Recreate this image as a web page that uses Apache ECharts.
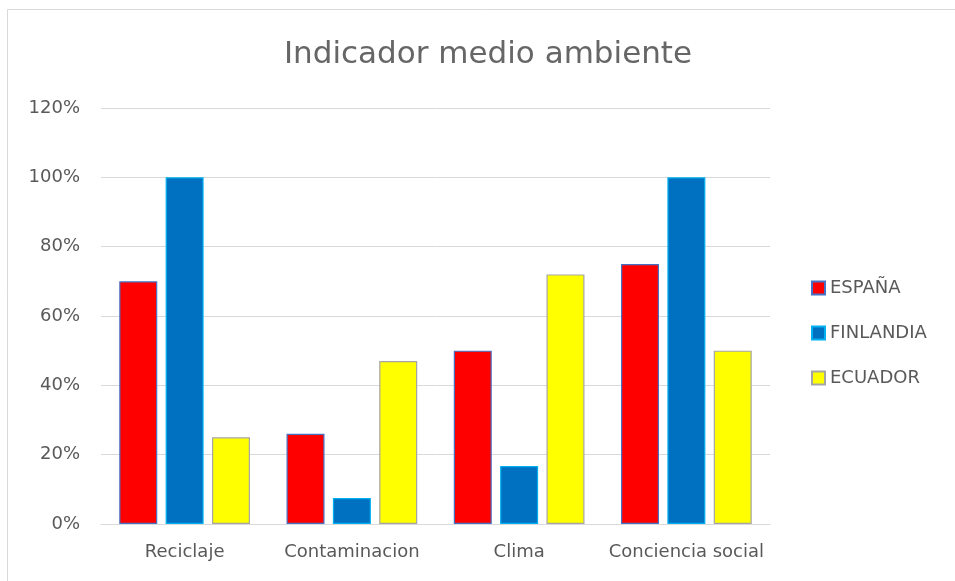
<!DOCTYPE html>
<html><head><meta charset="utf-8">
<script src="https://cdn.jsdelivr.net/npm/echarts@6/dist/echarts.min.js"></script>
<style>html,body{margin:0;padding:0;background:#fff}#c{width:955px;height:581px}</style>
</head><body><div id="c"></div>
<script>
const categories = ['Reciclaje', 'Contaminacion', 'Clima', 'Conciencia social'];
const espana = [0.70, 0.26, 0.50, 0.75];
const finlandia = [1.00, 0.075, 0.167, 1.00];
const ecuador = [0.25, 0.47, 0.72, 0.50];
const seriesNames = ['ESPAÑA', 'FINLANDIA', 'ECUADOR'];

const FONT = '"DejaVu Sans", sans-serif';
const chart = echarts.init(document.getElementById('c'));
const mk = (name, data, color, border) => ({
  name, type: 'bar', data, barWidth: 38, barGap: '22%',
  itemStyle: { color, borderColor: border, borderWidth: 1.2 }
});
chart.setOption({
  animation: false,
  backgroundColor: '#fff',
  graphic: [{ type: 'rect', shape: { x: 7.5, y: 9.5, width: 960, height: 600 }, style: { fill: 'none', stroke: '#d9d9d9', lineWidth: 1 }, silent: true }],
  title: { text: 'Indicador medio ambiente', left: 483, textAlign: 'center', top: 34,
    textStyle: { fontFamily: FONT, fontSize: 31, fontWeight: 'normal', color: '#666666' } },
  legend: { orient: 'vertical', left: 806, top: 274, itemWidth: 13, itemHeight: 13, itemGap: 27,
    icon: 'rect', textStyle: { fontFamily: FONT, fontSize: 18, color: '#595959', padding: [0, 0, 0, 0] } },
  grid: { left: 101, right: 185, top: 108, bottom: 57 },
  xAxis: { type: 'category', data: categories,
    axisLine: { lineStyle: { color: '#d9d9d9', width: 1 } }, axisTick: { show: false },
    axisLabel: { interval: 0, fontFamily: FONT, fontSize: 18, color: '#595959', margin: 19 } },
  yAxis: { type: 'value', min: 0, max: 1.2, interval: 0.2,
    axisLine: { show: false }, axisTick: { show: false },
    splitLine: { lineStyle: { color: '#d9d9d9', width: 1 } },
    axisLabel: { fontFamily: FONT, fontSize: 18, color: '#595959', margin: 21,
      formatter: v => Math.round(v * 100) + '%' } },
  series: [
    mk(seriesNames[0], espana, '#ff0000', '#4472c4'),
    mk(seriesNames[1], finlandia, '#0070c0', '#00b0f0'),
    mk(seriesNames[2], ecuador, '#ffff00', '#a5a5a5')
  ]
});
</script></body></html>
